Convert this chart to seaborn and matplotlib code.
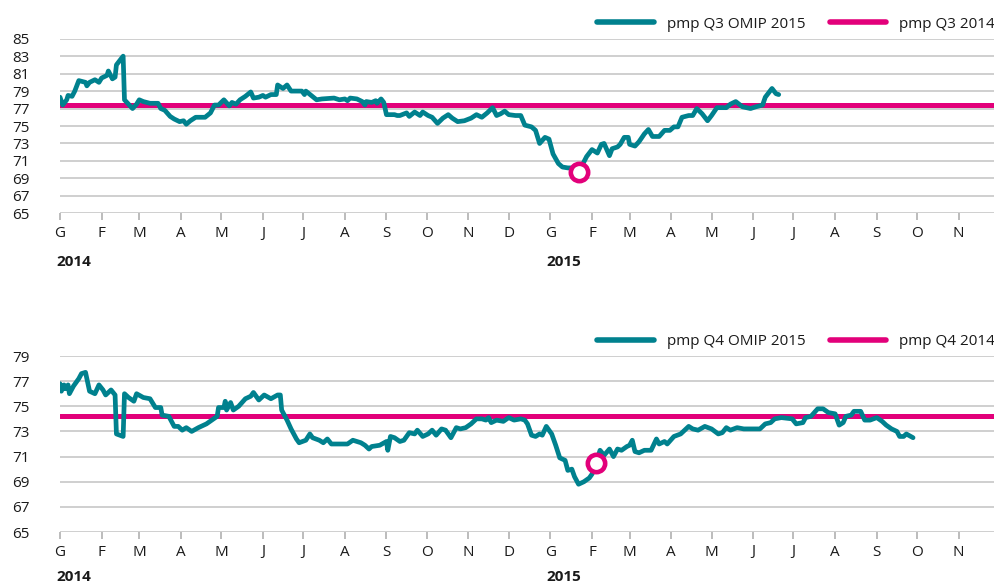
import matplotlib
matplotlib.use("Agg")
import matplotlib.pyplot as plt
import matplotlib.transforms as mtransforms
import pandas as pd
import seaborn as sns

# ---------------- data ----------------
month_labels = ["G", "F", "M", "A", "M", "J", "J", "A", "S", "O", "N", "D",
                "G", "F", "M", "A", "M", "J", "J", "A", "S", "O", "N"]
year_labels = ["2014", "2015"]

q3_dates = [
    "2014-01-01", "2014-01-03", "2014-01-06", "2014-01-07", "2014-01-10", "2014-01-12",
    "2014-01-15", "2014-01-20", "2014-01-21", "2014-01-23", "2014-01-27", "2014-01-30",
    "2014-02-01", "2014-02-05", "2014-02-06", "2014-02-09", "2014-02-11", "2014-02-12",
    "2014-02-17", "2014-02-18", "2014-02-21", "2014-02-24", "2014-02-27", "2014-03-01",
    "2014-03-04", "2014-03-09", "2014-03-15", "2014-03-17", "2014-03-20", "2014-03-24",
    "2014-03-27", "2014-03-31", "2014-04-03", "2014-04-05", "2014-04-08", "2014-04-12",
    "2014-04-19", "2014-04-23", "2014-04-26", "2014-04-29", "2014-05-03", "2014-05-07",
    "2014-05-09", "2014-05-12", "2014-05-15", "2014-05-19", "2014-05-23", "2014-05-25",
    "2014-05-29", "2014-06-01", "2014-06-03", "2014-06-07", "2014-06-11", "2014-06-12",
    "2014-06-16", "2014-06-19", "2014-06-22", "2014-06-27", "2014-06-30", "2014-07-02",
    "2014-07-03", "2014-07-07", "2014-07-11", "2014-07-15", "2014-07-24", "2014-07-28",
    "2014-08-01", "2014-08-03", "2014-08-05", "2014-08-10", "2014-08-14", "2014-08-16",
    "2014-08-17", "2014-08-21", "2014-08-24", "2014-08-25", "2014-08-28", "2014-08-30",
    "2014-09-01", "2014-09-07", "2014-09-09", "2014-09-11", "2014-09-16", "2014-09-18",
    "2014-09-22", "2014-09-26", "2014-09-28", "2014-10-02", "2014-10-05", "2014-10-09",
    "2014-10-13", "2014-10-17", "2014-10-20", "2014-10-24", "2014-10-29", "2014-11-03",
    "2014-11-07", "2014-11-11", "2014-11-15", "2014-11-19", "2014-11-22", "2014-11-25",
    "2014-11-28", "2014-12-01", "2014-12-06", "2014-12-10", "2014-12-13", "2014-12-18",
    "2014-12-21", "2014-12-24", "2014-12-28", "2014-12-31", "2015-01-03", "2015-01-07",
    "2015-01-10", "2015-01-14", "2015-01-18", "2015-01-22", "2015-01-24", "2015-01-28",
    "2015-02-01", "2015-02-05", "2015-02-08", "2015-02-10", "2015-02-14", "2015-02-16",
    "2015-02-20", "2015-02-22", "2015-02-25", "2015-02-28", "2015-03-01", "2015-03-05",
    "2015-03-08", "2015-03-12", "2015-03-15", "2015-03-18", "2015-03-23", "2015-03-27",
    "2015-03-31", "2015-04-03", "2015-04-06", "2015-04-09", "2015-04-14", "2015-04-17",
    "2015-04-20", "2015-04-24", "2015-04-28", "2015-05-01", "2015-05-05", "2015-05-12",
    "2015-05-15", "2015-05-19", "2015-05-24", "2015-05-30", "2015-06-03", "2015-06-08",
    "2015-06-10", "2015-06-15", "2015-06-18", "2015-06-20",
]
q3_values = [
    78.3, 77.4, 78.0, 78.5, 78.4, 79.0,
    80.2, 80.0, 79.6, 80.0, 80.3, 80.0,
    80.5, 80.8, 81.3, 80.4, 80.6, 82.0,
    83.0, 78.0, 77.5, 77.0, 77.5, 78.0,
    77.8, 77.6, 77.6, 77.0, 76.8, 76.1,
    75.8, 75.5, 75.6, 75.2, 75.6, 76.0,
    76.0, 76.5, 77.4, 77.4, 78.0, 77.3,
    77.7, 77.5, 78.0, 78.4, 78.9, 78.2,
    78.3, 78.5, 78.3, 78.6, 78.6, 79.7,
    79.3, 79.7, 79.0, 79.0, 79.0, 78.6,
    79.0, 78.5, 78.0, 78.1, 78.2, 78.0,
    78.1, 77.9, 78.2, 78.1, 77.8, 77.4,
    77.8, 77.7, 77.9, 77.6, 78.1, 77.7,
    76.3, 76.3, 76.2, 76.2, 76.5, 76.1,
    76.6, 76.2, 76.6, 76.2, 76.0, 75.3,
    75.9, 76.3, 75.9, 75.5, 75.6, 75.9,
    76.3, 76.0, 76.5, 77.1, 76.2, 76.4,
    76.7, 76.3, 76.2, 76.2, 75.1, 74.9,
    74.5, 73.0, 73.7, 73.5, 71.8, 70.7,
    70.3, 70.2, 70.2, 69.7, 70.3, 71.5,
    72.3, 71.9, 72.9, 73.0, 71.6, 72.4,
    72.6, 72.9, 73.7, 73.7, 72.9, 72.7,
    73.2, 74.1, 74.6, 73.8, 73.8, 74.5,
    74.5, 74.9, 74.9, 76.0, 76.2, 76.2,
    77.0, 76.4, 75.6, 76.2, 77.1, 77.1,
    77.5, 77.8, 77.2, 77.0, 77.2, 77.4,
    78.3, 79.3, 78.7, 78.6,
]

q4_dates = [
    "2014-01-01", "2014-01-02", "2014-01-04", "2014-01-05", "2014-01-07", "2014-01-08",
    "2014-01-11", "2014-01-15", "2014-01-17", "2014-01-20", "2014-01-23", "2014-01-27",
    "2014-01-30", "2014-02-02", "2014-02-04", "2014-02-08", "2014-02-11", "2014-02-12",
    "2014-02-17", "2014-02-18", "2014-02-21", "2014-02-25", "2014-02-27", "2014-03-04",
    "2014-03-09", "2014-03-13", "2014-03-17", "2014-03-18", "2014-03-23", "2014-03-27",
    "2014-03-30", "2014-04-02", "2014-04-05", "2014-04-09", "2014-04-14", "2014-04-20",
    "2014-04-24", "2014-04-28", "2014-04-29", "2014-05-03", "2014-05-04", "2014-05-05",
    "2014-05-08", "2014-05-10", "2014-05-14", "2014-05-19", "2014-05-23", "2014-05-25",
    "2014-05-29", "2014-06-02", "2014-06-07", "2014-06-12", "2014-06-14", "2014-06-15",
    "2014-06-17", "2014-06-19", "2014-06-22", "2014-06-26", "2014-06-28", "2014-07-03",
    "2014-07-06", "2014-07-08", "2014-07-13", "2014-07-16", "2014-07-19", "2014-07-22",
    "2014-07-27", "2014-08-03", "2014-08-07", "2014-08-13", "2014-08-16", "2014-08-19",
    "2014-08-21", "2014-08-27", "2014-09-01", "2014-09-02", "2014-09-04", "2014-09-07",
    "2014-09-11", "2014-09-14", "2014-09-18", "2014-09-22", "2014-09-24", "2014-09-28",
    "2014-10-02", "2014-10-05", "2014-10-08", "2014-10-12", "2014-10-15", "2014-10-19",
    "2014-10-23", "2014-10-26", "2014-10-30", "2014-11-03", "2014-11-07", "2014-11-11",
    "2014-11-14", "2014-11-16", "2014-11-18", "2014-11-22", "2014-11-27", "2014-12-01",
    "2014-12-05", "2014-12-10", "2014-12-13", "2014-12-15", "2014-12-18", "2014-12-21",
    "2014-12-24", "2014-12-26", "2014-12-29", "2015-01-02", "2015-01-05", "2015-01-08",
    "2015-01-12", "2015-01-14", "2015-01-17", "2015-01-19", "2015-01-22", "2015-01-26",
    "2015-01-30", "2015-02-01", "2015-02-04", "2015-02-07", "2015-02-10", "2015-02-14",
    "2015-02-17", "2015-02-20", "2015-02-23", "2015-02-27", "2015-03-01", "2015-03-03",
    "2015-03-05", "2015-03-08", "2015-03-12", "2015-03-17", "2015-03-21", "2015-03-23",
    "2015-03-27", "2015-03-29", "2015-04-03", "2015-04-08", "2015-04-14", "2015-04-17",
    "2015-04-21", "2015-04-26", "2015-05-01", "2015-05-06", "2015-05-09", "2015-05-12",
    "2015-05-15", "2015-05-20", "2015-05-25", "2015-06-06", "2015-06-10", "2015-06-14",
    "2015-06-17", "2015-06-22", "2015-06-30", "2015-07-03", "2015-07-08", "2015-07-10",
    "2015-07-14", "2015-07-19", "2015-07-23", "2015-07-27", "2015-08-01", "2015-08-04",
    "2015-08-07", "2015-08-09", "2015-08-13", "2015-08-15", "2015-08-20", "2015-08-23",
    "2015-08-27", "2015-09-01", "2015-09-05", "2015-09-08", "2015-09-12", "2015-09-16",
    "2015-09-18", "2015-09-21", "2015-09-23", "2015-09-28",
]
q4_values = [
    76.8, 76.2, 76.7, 76.4, 76.7, 76.0,
    76.6, 77.2, 77.6, 77.7, 76.2, 76.0,
    76.7, 76.3, 75.9, 76.3, 75.9, 72.8,
    72.6, 76.0, 75.7, 75.4, 76.0, 75.7,
    75.6, 74.9, 74.9, 74.3, 74.2, 73.4,
    73.4, 73.1, 73.3, 73.0, 73.3, 73.6,
    73.9, 74.2, 74.9, 74.9, 75.4, 74.7,
    75.3, 74.7, 75.0, 75.6, 75.8, 76.1,
    75.5, 75.9, 75.6, 75.9, 75.9, 74.7,
    74.3, 73.9, 73.2, 72.4, 72.1, 72.3,
    72.8, 72.5, 72.3, 72.1, 72.4, 72.0,
    72.0, 72.0, 72.3, 72.1, 71.9, 71.6,
    71.8, 71.9, 72.2, 71.5, 72.6, 72.5,
    72.2, 72.3, 72.9, 72.8, 73.1, 72.6,
    72.8, 73.1, 72.7, 73.2, 73.1, 72.5,
    73.3, 73.2, 73.3, 73.6, 74.0, 74.0,
    73.9, 74.1, 73.7, 73.9, 73.8, 74.1,
    73.9, 74.0, 73.9, 73.6, 72.7, 72.6,
    72.8, 72.7, 73.4, 72.8, 71.9, 70.9,
    70.7, 69.9, 70.0, 69.4, 68.8, 69.0,
    69.3, 69.6, 70.5, 71.5, 71.1, 71.6,
    71.0, 71.6, 71.5, 71.8, 71.9, 72.3,
    71.4, 71.3, 71.5, 71.5, 72.4, 72.0,
    72.2, 72.0, 72.6, 72.8, 73.4, 73.2,
    73.1, 73.4, 73.2, 72.8, 72.9, 73.3,
    73.1, 73.3, 73.2, 73.2, 73.6, 73.7,
    74.0, 74.1, 74.0, 73.6, 73.7, 74.1,
    74.2, 74.8, 74.8, 74.5, 74.4, 73.5,
    73.7, 74.2, 74.3, 74.6, 74.6, 73.9,
    73.9, 74.1, 73.8, 73.5, 73.2, 73.0,
    72.6, 72.6, 72.8, 72.5,
]

q3_ref_2014 = 77.35
q4_ref_2014 = 74.25
q3_marker = ("2015-01-22", 69.7)
q4_marker = ("2015-02-04", 70.5)

panels = [
    dict(dates=q3_dates, values=q3_values, ref=q3_ref_2014, marker=q3_marker,
         series_label="pmp Q3 OMIP 2015", ref_label="pmp Q3 2014",
         yticks=list(range(65, 86, 2))),
    dict(dates=q4_dates, values=q4_values, ref=q4_ref_2014, marker=q4_marker,
         series_label="pmp Q4 OMIP 2015", ref_label="pmp Q4 2014",
         yticks=list(range(65, 80, 2))),
]

# ---------------- style ----------------
TEAL = "#00818e"
MAGENTA = "#e2007a"
GRID = "#cccccc"
TEXT = "#1a1a1a"
FS = 11

sns.set_theme(style="white")
plt.rcParams["font.family"] = ["Open Sans", "DejaVu Sans"]
plt.rcParams["font.size"] = FS

W, H = 995, 584
fig = plt.figure(figsize=(W / 100, H / 100), dpi=100)

axes_px = [(38.7, 213.3), (356.0, 532.0)]
year_px = [262, 577]
left_px, right_px = 60.0, 995.0

month_ticks = pd.date_range("2014-01-01", "2015-11-01", freq="MS")
xmin = pd.Timestamp("2014-01-01")
xmax = pd.Timestamp("2015-11-28")

for p, (top_px, bot_px), ypx in zip(panels, axes_px, year_px):
    ax = fig.add_axes([left_px / W, 1 - bot_px / H,
                       (right_px - left_px) / W, (bot_px - top_px) / H])
    df = pd.DataFrame({"date": pd.to_datetime(p["dates"]), "value": p["values"]})
    ax.axhline(p["ref"], color=MAGENTA, lw=3.6, zorder=3, label=p["ref_label"])
    sns.lineplot(data=df, x="date", y="value", ax=ax, color=TEAL, lw=3.4,
                 zorder=4, label=p["series_label"],
                 solid_joinstyle="round", solid_capstyle="round")
    mdate, mval = p["marker"]
    ax.plot([pd.Timestamp(mdate)], [mval], marker="o", ms=12.5, mfc="white",
            mec=MAGENTA, mew=3.3, zorder=6, linestyle="none")

    ax.set_xlim(xmin, xmax)
    ax.set_ylim(p["yticks"][0], p["yticks"][-1])
    ax.set_yticks(p["yticks"])
    ax.set_xticks(month_ticks)
    ax.set_xticklabels(month_labels)
    ax.set_xlabel("")
    ax.set_ylabel("")
    for s in ax.spines.values():
        s.set_visible(False)
    ax.grid(axis="y", color=GRID, lw=1.3, zorder=0)
    ax.set_axisbelow(True)
    ax.tick_params(axis="y", length=0, pad=22, labelsize=FS, labelcolor=TEXT)
    ax.tick_params(axis="x", length=5, width=1.2, color="#b0b0b0", pad=4,
                   labelsize=FS, labelcolor=TEXT, direction="out", bottom=True)
    ax.patch.set_alpha(0)

    # year labels (bold, under the January ticks)
    ybox = (ypx - top_px) / (bot_px - top_px)
    trans = mtransforms.blended_transform_factory(ax.transData, ax.transAxes)
    off = mtransforms.ScaledTranslation(-4 / 100, 0, fig.dpi_scale_trans)
    for yl, d in zip(year_labels, ["2014-01-01", "2015-01-01"]):
        ax.text(pd.Timestamp(d), 1 - ybox, yl,
                transform=trans + off, ha="left", va="center",
                fontsize=FS, fontweight="bold", color=TEXT)

    # legend: series first, then reference
    handles, labels = ax.get_legend_handles_labels()
    order = [labels.index(p["series_label"]), labels.index(p["ref_label"])]
    leg = ax.legend([handles[i] for i in order], [labels[i] for i in order],
                    ncol=2, loc="lower right", bbox_to_anchor=(1.0, 1.04),
                    frameon=False, handlelength=3.7, handletextpad=0.85,
                    columnspacing=1.6, fontsize=FS, borderaxespad=0,
                    borderpad=0)
    for t in leg.get_texts():
        t.set_color(TEXT)
    for h in leg.legend_handles:
        h.set_linewidth(4)

fig.savefig("out.png", dpi=100)
